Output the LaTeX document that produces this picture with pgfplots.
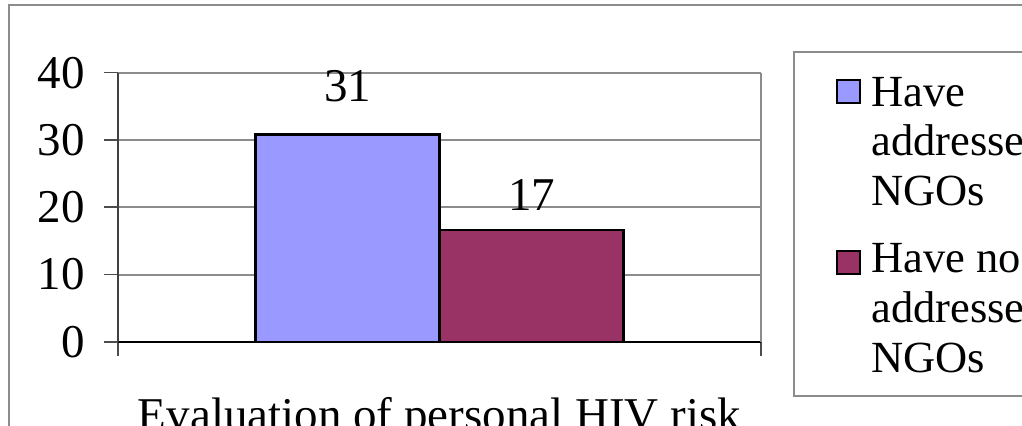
\documentclass[border=0pt]{standalone}
\usepackage{fontspec}
\setmainfont{Liberation Serif}
\usepackage{pgfplots}
\pgfplotsset{compat=1.18}
\definecolor{barA}{HTML}{9999FF}
\definecolor{barB}{HTML}{993366}
\definecolor{gridc}{HTML}{8C8C8C}
\begin{document}
\begin{tikzpicture}
\useasboundingbox (0,0) rectangle (511pt,213pt);
\clip (0,0) rectangle (511pt,213pt);
\draw[gridc, line width=0.6pt] (4.5pt,-20pt) -- (4.5pt,210.5pt) -- (530pt,210.5pt);
\begin{axis}[
  at={(59pt,42.05pt)}, anchor=south west,
  scale only axis, width=321.5pt, height=134.6pt,
  xmin=0, xmax=1, ymin=0, ymax=40,
  axis lines=left, axis line style={-},
  x axis line style={black, line width=1pt},
  y axis line style={black!75, line width=1pt},
  ybar=0pt, bar width=92pt,
  xtick={0,1}, xticklabels={},
  ytick={0,10,20,30,40},
  ymajorgrids, grid style={gridc, line width=1pt},
  tick align=outside, major tick length=7pt,
  tick style={black!70, line width=0.8pt},
  /pgf/number format/assume math mode=true,
  ticklabel style={font=\fontsize{23.5}{28}\selectfont},
  yticklabel style={xshift=-6pt},
  xlabel={Evaluation of personal HIV risk},
  every axis x label/.style={at={(rel axis cs:0.5,0)}, anchor=base, yshift=-44.5pt, inner sep=0pt, font=\fontsize{23.5}{28}\selectfont},
  nodes near coords={\pgfmathprintnumber[fixed,precision=0]{\pgfplotspointmeta}},
  nodes near coords style={font=\fontsize{23.5}{28}\selectfont, text=black},
  clip=false,
]
\addplot[draw=black, line width=1.3pt, fill=barA, nodes near coords style={yshift=12.5pt}] coordinates {(0.5,30.8)};
\addplot[draw=black, line width=1.3pt, fill=barB, nodes near coords style={yshift=6pt}] coordinates {(0.5,16.6)};
\draw[gridc, line width=1pt] (rel axis cs:1,0) -- (rel axis cs:1,1);
\end{axis}
% legend
\draw[gridc, line width=0.6pt] (530pt,187pt) -- (397pt,187pt) -- (397pt,15pt) -- (530pt,15pt);
\draw[black, line width=1pt, fill=barA] (418.5pt,161.5pt) rectangle (430pt,173pt);
\draw[black, line width=1pt, fill=barB] (418.5pt,76pt) rectangle (430pt,87.5pt);
\begin{scope}[every node/.style={anchor=base west, inner sep=0pt, font=\fontsize{22.25}{25}\selectfont}]
\node at (435.5pt,159.5pt) {Have};
\node at (435.5pt,135pt) {addresse};
\node at (435.5pt,110pt) {NGOs};
\node at (435.5pt,76.5pt) {Have no};
\node at (435.5pt,51.5pt) {addresse};
\node at (435.5pt,26.5pt) {NGOs};
\end{scope}
\end{tikzpicture}
\end{document}
